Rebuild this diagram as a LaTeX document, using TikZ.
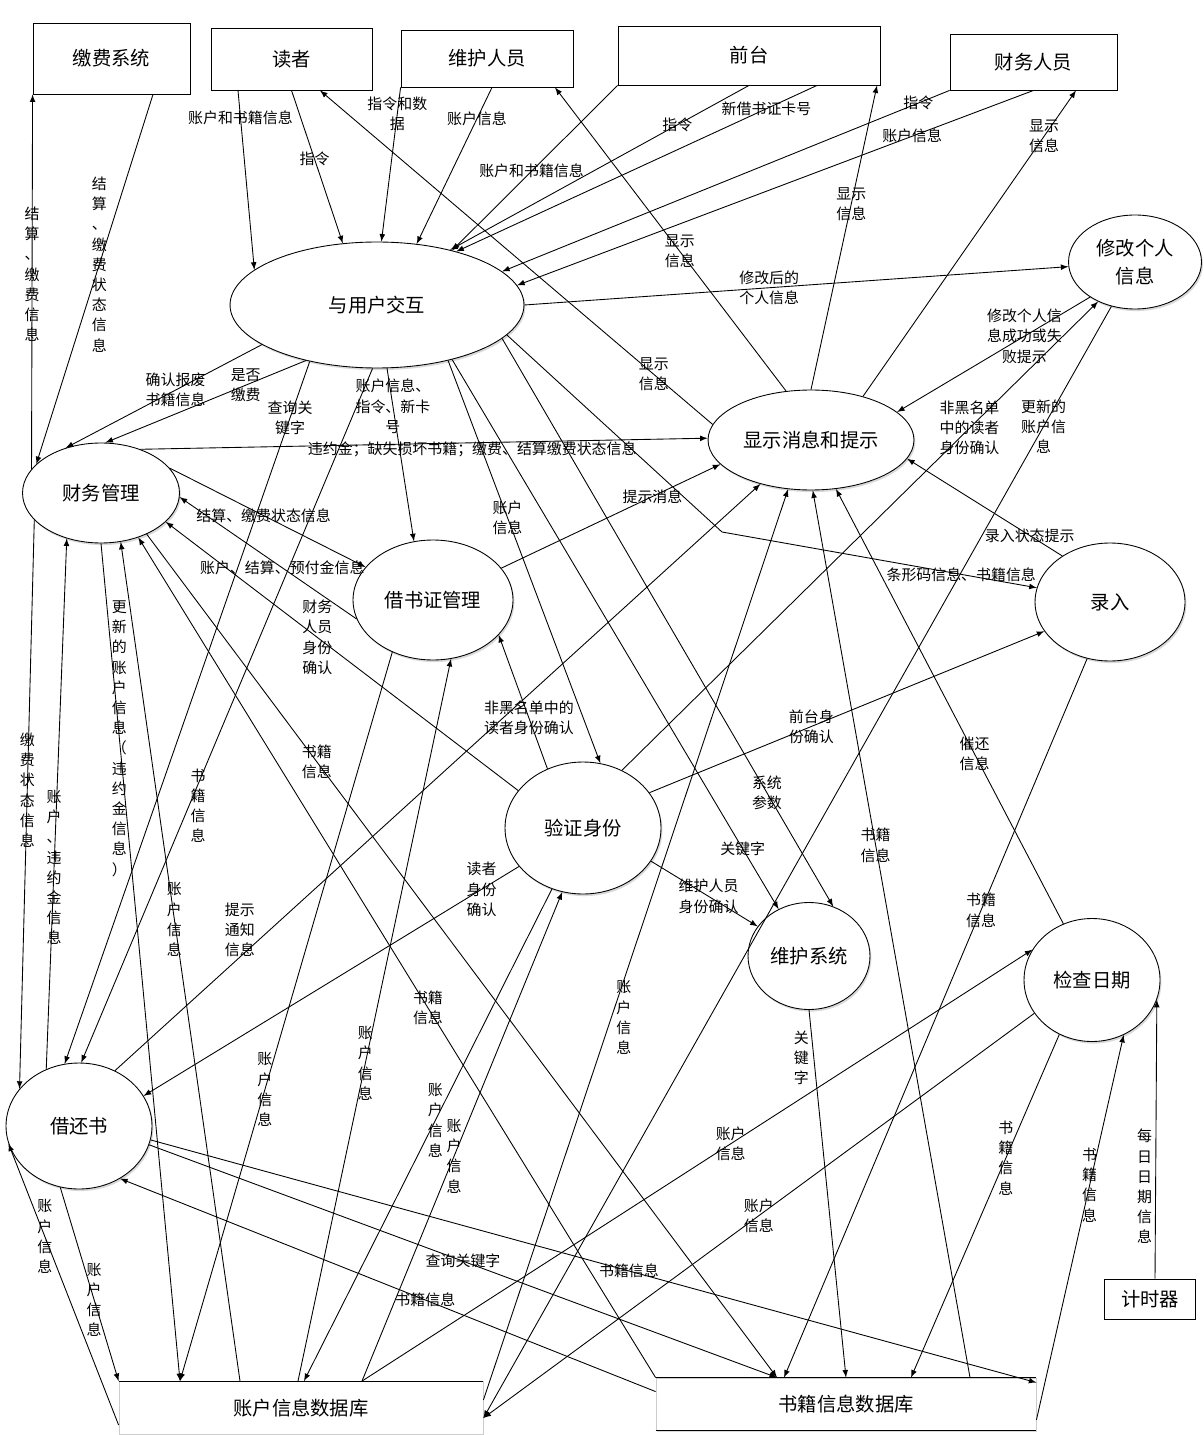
\documentclass[tikz,border=0pt]{standalone}
\usepackage{fontspec}
\setmainfont{Noto Sans CJK SC}
\usetikzlibrary{shapes.geometric,calc,shadows}

\begin{document}
\begin{tikzpicture}[x=0.02cm,y=-0.02cm,line width=0.5pt,
  box/.style={draw,rectangle,inner sep=0pt,font=\fontsize{11}{16}\selectfont},
  proc/.style={draw,ellipse,inner sep=0pt,align=center,fill=white,drop shadow={opacity=0.3,shadow xshift=0.8pt,shadow yshift=-1.2pt},font=\fontsize{11}{16}\selectfont},
  store/.style={draw=black!20,rectangle,inner sep=0pt,fill=white,drop shadow={opacity=0.3,shadow xshift=0.8pt,shadow yshift=-1.2pt},font=\fontsize{11}{16}\selectfont},
  lab/.style={inner sep=0pt,align=center,font=\fontsize{8.5}{11.5}\selectfont},
  flow/.style={-latex}]
\useasboundingbox (0,0) rectangle (1203,1435);

\node[box,minimum width=3.14cm,minimum height=1.42cm] (pay) at (111.5,58.5) {缴费系统};
\node[box,minimum width=3.22cm,minimum height=1.24cm] (reader) at (291.5,59) {读者};
\node[box,minimum width=3.44cm,minimum height=1.14cm] (maint) at (487,58.5) {维护人员};
\node[box,minimum width=5.24cm,minimum height=1.18cm] (front) at (749,55.5) {前台};
\node[box,minimum width=3.34cm,minimum height=1.12cm] (fin) at (1033.5,62) {财务人员};
\node[box,minimum width=1.82cm,minimum height=0.8cm] (timer) at (1150,1299) {计时器};
\node[store,minimum width=7.28cm,minimum height=1.06cm] (accdb) at (301,1408) {账户信息数据库};
\node[store,minimum width=7.6cm,minimum height=1.04cm] (bookdb) at (846,1404) {书籍信息数据库};
\draw (accdb.north west) -- (accdb.north east) (accdb.south west) -- (accdb.south east);
\draw (bookdb.north west) -- (bookdb.north east) (bookdb.south west) -- (bookdb.south east);

\node[proc,minimum width=5.88cm,minimum height=2.52cm] (ui) at (377,305) {与用户交互};
\node[proc,minimum width=4.12cm,minimum height=2cm] (show) at (811,440) {显示消息和提示};
\node[proc,minimum width=2.66cm,minimum height=1.88cm] (modify) at (1135,262) {修改个人\\信息};
\node[proc,minimum width=3.14cm,minimum height=2cm] (finmgr) at (101,493) {财务管理};
\node[proc,minimum width=3.2cm,minimum height=2.4cm] (card) at (433,600) {借书证管理};
\node[proc,minimum width=3cm,minimum height=2.36cm] (entry) at (1110,602) {录入};
\node[proc,minimum width=3.12cm,minimum height=2.64cm] (verify) at (583,828) {验证身份};
\node[proc,minimum width=2.44cm,minimum height=2.14cm] (sys) at (809,956) {维护系统};
\node[proc,minimum width=2.72cm,minimum height=2.46cm] (check) at (1092,980) {检查日期};
\node[proc,minimum width=2.92cm,minimum height=2.52cm] (borrow) at (79,1126) {借还书};
\coordinate (bend) at (722,532);

\draw[flow] ($(pay.south)+(41.5,0)$) -- (finmgr.156) node[lab,pos=0.46]{结\\算\\、\\缴\\费\\状\\态\\信\\息};
\draw[flow] (finmgr.161) -- (pay.south west) node[lab,pos=0.52]{结\\算\\、\\缴\\费\\信\\息};
\draw[flow] ($(reader.south)+(-53.5,0)$) -- (ui.164) node[lab,pos=0.15]{账户和书籍信息};
\draw[flow] (reader.south) -- (ui.119) node[lab,pos=0.45]{指令};
\draw[flow] (show.171) -- ($(reader.south)+(28.5,0)$) node[lab,pos=0.15]{显示\\信息};
\draw[flow] (maint.south west) -- (ui.86) node[lab,pos=0.17]{指令和数\\据};
\draw[flow] ($(maint.south)+(5,0)$) -- (ui.57) node[lab,pos=0.2]{账户信息};
\draw[flow] (show.117) -- ($(maint.south)+(68,0)$) node[lab,pos=0.46]{显示\\信息};
\draw[flow] (front.south west) -- (ui.36) node[lab,pos=0.52]{账户和书籍信息};
\draw[flow] (front.south) -- (ui.37) node[lab,pos=0.24]{指令};
\draw[flow] ($(front.south)+(68,0)$) -- (ui.34) node[lab,pos=0.14]{新借书证卡号};
\draw[flow] (show.north) -- ($(front.south)+(128,0)$) node[lab,pos=0.61]{显示\\信息};
\draw[flow] (show.40) -- ($(fin.south)+(42.5,0)$) node[lab,pos=0.85]{显示\\信息};
\draw[flow] (fin.south west) -- (ui.15) node[lab,pos=0.07]{指令};
\draw[flow] (fin.south) -- (ui.8) node[lab,pos=0.235]{账户信息};
\draw[flow] (ui.east) -- (modify.-176) node[lab,pos=0.45]{修改后的\\个人信息};
\draw[flow] (modify.-142) -- (show.18) node[lab,pos=0.34]{修改个人信\\息成功或失\\败提示};
\draw[flow] (verify.56) -- (modify.-133) node[lab,pos=0.73]{非黑名单\\中的读者\\身份确认};
\draw[flow] (modify.-118) -- ($(accdb.east)+(0,10)$) node[lab,pos=0.108]{更新的\\账户信\\息};

\draw[flow] (ui.-161) -- (finmgr.128) node[lab,pos=0.44]{确认报废\\书籍信息};
\draw[flow] (ui.-142) -- (finmgr.85) node[lab,pos=0.3]{是否\\缴费};
\draw[flow] (ui.-140) -- (borrow.103) node[lab,pos=0.08]{查询关\\键字};
\draw[flow] (ui.-94) -- (borrow.88) node[lab,pos=0.63,xshift=0.18cm]{书\\籍\\信\\息};
\draw[flow] (ui.-81) -- (card.108) node[lab,pos=0.22]{账户信息、\\指令、新卡\\号};
\draw[flow] (ui.-38) -- (verify.75) node[lab,pos=0.39]{账户\\信息};
\draw[flow] (ui.-36) -- (sys.123) node[lab,pos=0.89]{关键字};
\draw[flow] (ui.-15) -- (sys.64) node[lab,pos=0.8]{系统\\参数};
\draw[flow] (ui.-13) -- (bend) -- node[lab,pos=0.76]{条形码信息、书籍信息} (entry.169);

\draw[flow] (finmgr.48) -- (show.179) node[lab,pos=0.585,yshift=-4pt]{违约金；缺失损坏书籍；缴费、结算缴费状态信息};
\draw[flow] (finmgr.20) -- (card.154) node[lab,pos=0.48]{结算、缴费状态信息};
\draw[flow] (card.-166) -- (finmgr.-3) node[lab,pos=0.42]{账户、结算、预付金信息};
\draw[flow] (verify.150) -- (finmgr.-24) node[lab,pos=0.57]{财务\\人员\\身份\\确认};
\draw[flow] (borrow.120) -- (finmgr.-127) node[lab,pos=0.38]{账\\户\\、\\违\\约\\金\\信\\息};
\draw[flow] (finmgr.-158) -- (borrow.148) node[lab,pos=0.475]{缴\\费\\状\\态\\信\\息};
\draw[flow] (finmgr.south) -- ($(accdb.north)+(-121,0)$) node[lab,pos=0.233]{更\\新\\的\\账\\户\\信\\息\\（\\违\\约\\金\\信\\息\\）};
\draw[flow] ($(accdb.north)+(-61,0)$) -- (finmgr.-68) node[lab,pos=0.55]{账\\户\\信\\息};
\draw[flow] (bookdb.north west) -- (finmgr.-50) node[lab,pos=0.44]{书籍\\信息};
\draw[flow] (finmgr.-42) -- ($(bookdb.north)+(-69,0)$) node[lab,pos=0.27]{书籍\\信息};

\draw[flow] (verify.121) -- (card.-28) node[lab,pos=0.38]{非黑名单中的\\读者身份确认};
\draw[flow] (card.25) -- (show.-165) node[lab,pos=0.69]{提示消息};
\draw[flow] (borrow.57) -- (show.-139) node[lab,pos=0.24,xshift=-0.6cm]{提示\\通知\\信息};
\draw[flow] (borrow.-107) -- (accdb.north west) node[lab,pos=0.58]{账\\户\\信\\息};
\draw[flow] ($(accdb.west)+(0,17)$) -- (borrow.-166) node[lab,pos=0.67]{账\\户\\信\\息};
\draw[flow] (borrow.-11) -- ($(bookdb.north east)+(0,5)$) node[lab,pos=0.54]{书籍信息};
\draw[flow] (borrow.-15) -- ($(bookdb.north)+(-69,0)$) node[lab,pos=0.5]{查询关键字};
\draw[flow] ($(bookdb.north west)+(0,14)$) -- (borrow.-52) node[lab,pos=0.43]{书籍信息};
\draw[flow] (verify.-149) -- (borrow.25) node[lab,pos=0.1]{读者\\身份\\确认};

\draw[flow] (card.-128) -- ($(accdb.north)+(-121,0)$) node[lab,pos=0.6]{账\\户\\信\\息};
\draw[flow] ($(accdb.north)+(-3,0)$) -- (card.-73) node[lab,pos=0.44]{账\\户\\信\\息};
\draw[flow] (verify.-117) -- ($(accdb.north)+(3,0)$) node[lab,pos=0.47]{账\\户\\信\\息};
\draw[flow] ($(accdb.north)+(61,0)$) -- (verify.-108) node[lab,pos=0.46]{账\\户\\信\\息};
\draw[flow] ($(accdb.north)+(61,0)$) -- (check.153) node[lab,pos=0.55]{账户\\信息};
\draw[flow] (check.-150) -- ($(accdb.east)+(0,10)$) node[lab,pos=0.5]{账户\\信息};
\draw[flow] ($(accdb.east)+(0,-8)$) -- (show.-115) node[lab,pos=0.42,xshift=0.25cm]{账\\户\\信\\息};

\draw[flow] ($(bookdb.north)+(124,0)$) -- (show.-88) node[lab,pos=0.6]{书籍\\信息};
\draw[flow] (check.117) -- (show.-63) node[lab,pos=0.39]{催还\\信息};
\draw[flow] (entry.136) -- (show.-11) node[lab,pos=0.21]{录入状态提示};
\draw[flow] (verify.28) -- (entry.-156) node[lab,pos=0.41]{前台身\\份确认};
\draw[flow] (entry.-112) -- ($(bookdb.north)+(-62,0)$) node[lab,pos=0.35]{书籍\\信息};
\draw[flow] (verify.-26) -- (sys.150) node[lab,pos=0.54]{维护人员\\身份确认};
\draw[flow] (sys.south) -- (bookdb.north) node[lab,pos=0.13,xshift=-0.25cm]{关\\键\\字};
\draw[flow] (check.-121) -- ($(bookdb.north)+(65,0)$) node[lab,pos=0.36]{书\\籍\\信\\息};
\draw[flow] ($(bookdb.east)+(0,16)$) -- (check.-60) node[lab,pos=0.61]{书\\籍\\信\\息};
\draw[flow] ($(timer.north)+(5,0)$) -- (check.-17) node[lab,pos=0.33,xshift=-0.22cm]{每\\日\\日\\期\\信\\息};
\end{tikzpicture}
\end{document}
